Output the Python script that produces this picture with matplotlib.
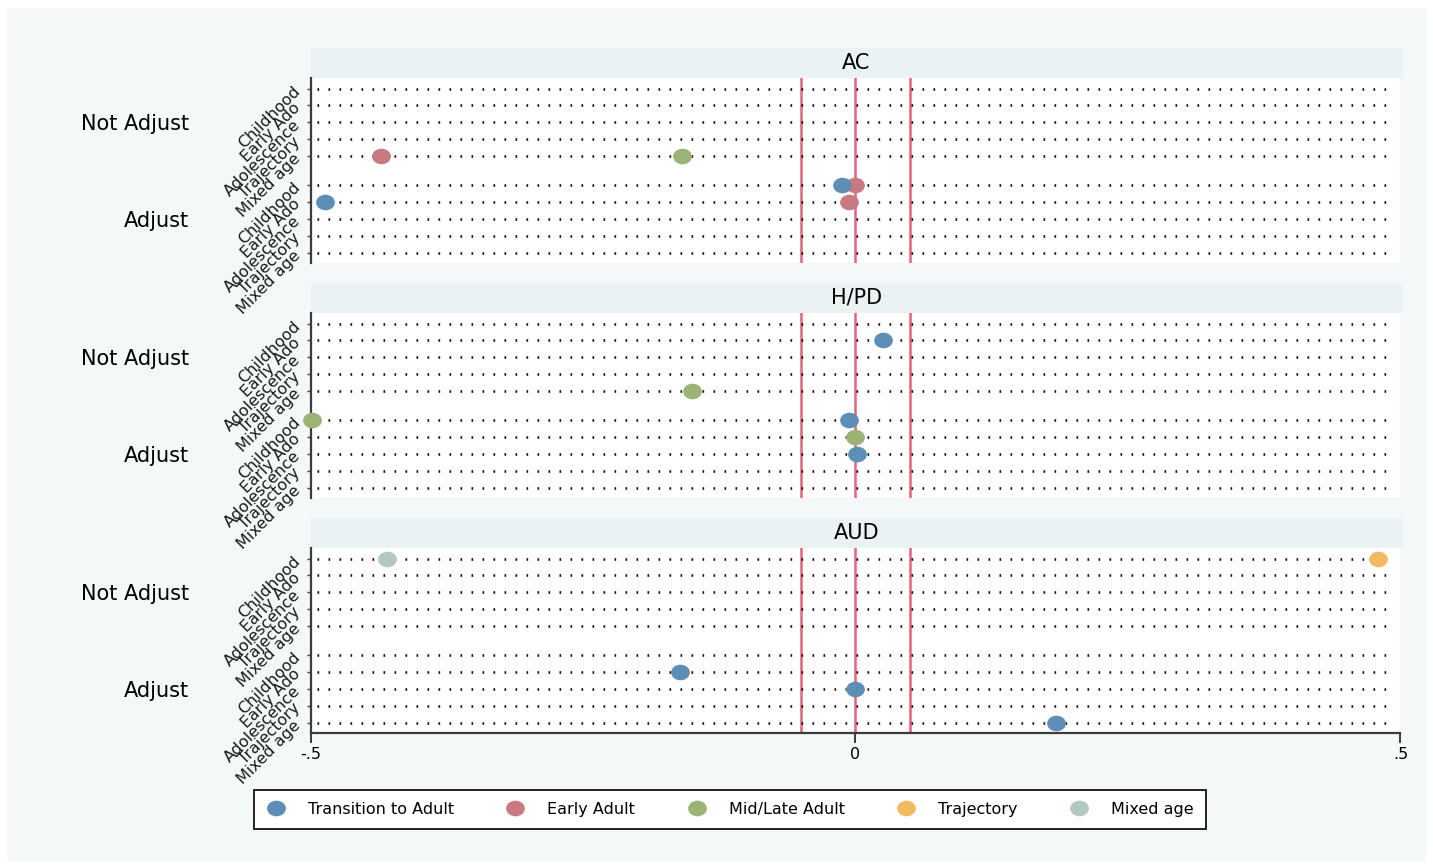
import numpy as np
import matplotlib
matplotlib.use("Agg")
import matplotlib.pyplot as plt
from matplotlib.lines import Line2D
from matplotlib.path import Path
from matplotlib.patches import Rectangle
from matplotlib.transforms import blended_transform_factory, offset_copy

plt.rcParams["font.family"] = ["DejaVu Sans"]
plt.rcParams["lines.scale_dashes"] = False

# ── Data ───────────────────────────────────────────────────────────────────────
ROW_LABELS = ["Childhood", "Early Ado", "Adolescence", "Trajectory", "Mixed age"]
GROUPS = ["Not Adjust", "Adjust"]
PANELS = ["AC", "H/PD", "AUD"]
SERIES = ["Transition to Adult", "Early Adult", "Mid/Late Adult", "Trajectory", "Mixed age"]
COLORS = ["#5d8fb6", "#c97a80", "#9bb476", "#f4b964", "#b2c8c0"]

# row index 0-4 = Not Adjust, 5-9 = Adjust
AC_ROWS = [4, 4, 5, 5, 6, 6]
AC_SERIES = ["Early Adult", "Mid/Late Adult", "Early Adult", "Transition to Adult",
             "Early Adult", "Transition to Adult"]
AC_VALUES = [-0.435, -0.159, 0.0, -0.012, -0.006, -0.487]

HPD_ROWS = [1, 4, 5, 5, 6, 7]
HPD_SERIES = ["Transition to Adult", "Mid/Late Adult", "Mid/Late Adult",
              "Transition to Adult", "Mid/Late Adult", "Transition to Adult"]
HPD_VALUES = [0.025, -0.150, -0.499, -0.006, 0.0, 0.001]

AUD_ROWS = [0, 0, 6, 7, 9]
AUD_SERIES = ["Mixed age", "Trajectory", "Transition to Adult",
              "Transition to Adult", "Transition to Adult"]
AUD_VALUES = [-0.430, 0.479, -0.161, 0.0, 0.184]

REF_LINES = [-0.05, 0.0, 0.05]
XTICKS = [-0.5, 0.0, 0.5]
XTICK_LABELS = ["-.5", "0", ".5"]

panel_data = [(AC_ROWS, AC_SERIES, AC_VALUES),
              (HPD_ROWS, HPD_SERIES, HPD_VALUES),
              (AUD_ROWS, AUD_SERIES, AUD_VALUES)]

# ── Style ──────────────────────────────────────────────────────────────────────
W, H = 1433, 866
BG = "#f4f8f9"
STRIP = "#eaf2f4"
AXIS = "#3c3c3c"
REDLINE = "#e6617a"

GAP = 0.7                                   # extra space between the two groups
row_pos = np.array([i + (GAP if i >= 5 else 0) for i in range(10)])

# slightly wide ellipse marker
circ = Path.unit_circle()
ellipse = Path(circ.vertices * np.array([1.2, 1.0]), circ.codes)
MS = 13.5

fig = plt.figure(figsize=(W / 100, H / 100), dpi=100)
fig.patch.set_facecolor("white")
fig.add_artist(Rectangle((7 / W, 1 - 861 / H), (1426 - 7) / W, (861 - 8) / H,
                         transform=fig.transFigure, facecolor=BG, edgecolor="none", zorder=-10))

left, right = 310.5, 1400.5
for i, (title, (rows, ser, vals)) in enumerate(zip(PANELS, panel_data)):
    strip_top = 48 + 235 * i
    plot_top = strip_top + 29.5
    plot_h = 185.5

    # title strip
    sax = fig.add_axes([left / W, 1 - plot_top / H, (right + 2 - left) / W, 29.5 / H])
    sax.set_facecolor(STRIP)
    for s in sax.spines.values():
        s.set_visible(False)
    sax.set_xticks([])
    sax.set_yticks([])
    sax.text(0.5, 0.5, title, ha="center", va="center", fontsize=15, transform=sax.transAxes)

    ax = fig.add_axes([left / W, 1 - (plot_top + plot_h) / H, (right - left) / W, plot_h / H])
    ax.set_facecolor("white")
    ax.set_xlim(-0.5, 0.5)
    ax.set_ylim(row_pos[-1] + 0.6, row_pos[0] - 0.65)

    # dotted row guides
    ax.hlines(row_pos, -0.4936, 0.4936, colors="#111111", linestyles=[(0, (1.2, 6.72))],
              linewidth=1.9, zorder=2)
    for v in REF_LINES:
        ax.axvline(v, color=REDLINE, linewidth=1.8, zorder=1)

    for name, color in zip(SERIES, COLORS):
        xs = [v for v, s in zip(vals, ser) if s == name]
        ys = [row_pos[r] for r, s in zip(rows, ser) if s == name]
        if xs:
            ax.plot(xs, ys, ls="", marker=ellipse, ms=MS, color=color, mec="none",
                    zorder=3 + (len(SERIES) - SERIES.index(name)) * 0.1, clip_on=False)

    for side in ("top", "right"):
        ax.spines[side].set_visible(False)
    ax.spines["left"].set_color(AXIS)
    ax.spines["left"].set_linewidth(1.6)
    ax.set_yticks(row_pos)
    ax.set_yticklabels(ROW_LABELS * 2, rotation=45, rotation_mode="anchor",
                       ha="right", va="center", fontsize=11.5, color="#1a1a1a")
    ax.tick_params(axis="y", length=3, width=1, color=AXIS, pad=6)

    if i == len(PANELS) - 1:
        ax.spines["bottom"].set_color(AXIS)
        ax.spines["bottom"].set_linewidth(1.6)
        ax.set_xticks(XTICKS)
        ax.set_xticklabels(XTICK_LABELS, fontsize=11.5)
        ax.tick_params(axis="x", length=7, width=1.4, color=AXIS, pad=3)
    else:
        ax.spines["bottom"].set_visible(False)
        ax.set_xticks([])

    # group labels on the left, nudged a touch below the group centre
    tr = offset_copy(blended_transform_factory(fig.transFigure, ax.transData),
                     fig=fig, y=-2, units="dots")
    for g, name in enumerate(GROUPS):
        yc = row_pos[g * 5:(g + 1) * 5].mean()
        ax.text(189 / W, yc, name, ha="right", va="center", fontsize=15,
                transform=tr, clip_on=False)

# ── Legend ─────────────────────────────────────────────────────────────────────
handles = [Line2D([], [], ls="", marker=ellipse, ms=MS, color=c, mec="none") for c in COLORS]
leg = fig.legend(handles, SERIES, loc="center", ncol=5,
                 bbox_to_anchor=(730 / W, 1 - 809.5 / H), frameon=True, fancybox=False,
                 fontsize=11.5, handlelength=1.2, handletextpad=1.4, columnspacing=3.25,
                 borderpad=0.75, framealpha=1)
leg.get_frame().set_edgecolor("#111111")
leg.get_frame().set_linewidth(1.3)

fig.savefig("out.png", dpi=100, facecolor=fig.get_facecolor())
